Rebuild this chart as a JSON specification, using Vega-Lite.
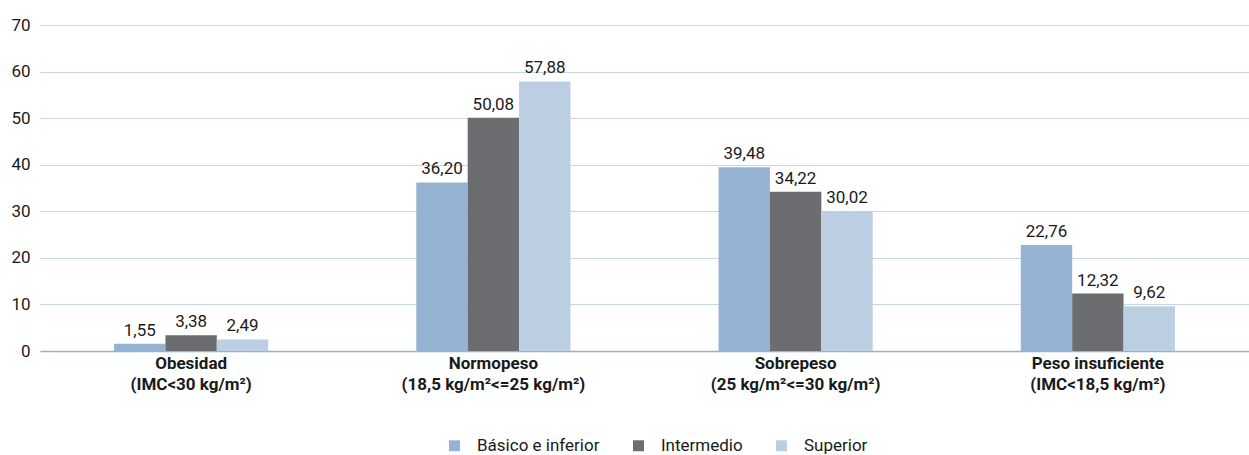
{
  "$schema": "https://vega.github.io/schema/vega-lite/v6.json",
  "autosize": "none",
  "width": 1209,
  "height": 326,
  "padding": {"left": 40, "top": 25, "right": 0, "bottom": 104},
  "background": "white",
  "config": {
    "locale": {"number": {"decimal": ",", "thousands": ".", "grouping": [3], "currency": ["", " €"]}},
    "font": "Roboto",
    "view": {"stroke": null}
  },
  "data": {
    "values": [
      {"cat": "Obesidad|(IMC<30 kg/m²)", "nivel": "Básico e inferior", "v": 1.55},
      {"cat": "Obesidad|(IMC<30 kg/m²)", "nivel": "Intermedio", "v": 3.38},
      {"cat": "Obesidad|(IMC<30 kg/m²)", "nivel": "Superior", "v": 2.49},
      {"cat": "Normopeso|(18,5 kg/m²<=25 kg/m²)", "nivel": "Básico e inferior", "v": 36.20},
      {"cat": "Normopeso|(18,5 kg/m²<=25 kg/m²)", "nivel": "Intermedio", "v": 50.08},
      {"cat": "Normopeso|(18,5 kg/m²<=25 kg/m²)", "nivel": "Superior", "v": 57.88},
      {"cat": "Sobrepeso|(25 kg/m²<=30 kg/m²)", "nivel": "Básico e inferior", "v": 39.48},
      {"cat": "Sobrepeso|(25 kg/m²<=30 kg/m²)", "nivel": "Intermedio", "v": 34.22},
      {"cat": "Sobrepeso|(25 kg/m²<=30 kg/m²)", "nivel": "Superior", "v": 30.02},
      {"cat": "Peso insuficiente|(IMC<18,5 kg/m²)", "nivel": "Básico e inferior", "v": 22.76},
      {"cat": "Peso insuficiente|(IMC<18,5 kg/m²)", "nivel": "Intermedio", "v": 12.32},
      {"cat": "Peso insuficiente|(IMC<18,5 kg/m²)", "nivel": "Superior", "v": 9.62}
    ]
  },
  "encoding": {
    "x": {
      "field": "cat",
      "type": "nominal",
      "sort": ["Obesidad|(IMC<30 kg/m²)", "Normopeso|(18,5 kg/m²<=25 kg/m²)", "Sobrepeso|(25 kg/m²<=30 kg/m²)", "Peso insuficiente|(IMC<18,5 kg/m²)"],
      "scale": {"paddingInner": 0.49, "paddingOuter": 0.245},
      "axis": {
        "title": null,
        "labelAngle": 0,
        "labelExpr": "split(datum.label, '|')",
        "labelFont": "Roboto",
        "labelFontSize": 17,
        "labelFontWeight": "bold",
        "labelColor": "#1a1a1a",
        "labelLineHeight": 21,
        "labelPadding": 4,
        "labelBaseline": "top",
        "labelLimit": 400,
        "ticks": false,
        "domainColor": "#95b3d1",
        "domainWidth": 1.5,
        "grid": false
      }
    },
    "xOffset": {"field": "nivel", "type": "nominal", "sort": ["Básico e inferior", "Intermedio", "Superior"], "scale": {"paddingInner": 0, "paddingOuter": 0}},
    "y": {
      "field": "v",
      "type": "quantitative",
      "scale": {"domain": [0, 70]},
      "axis": {
        "title": null,
        "values": [0, 10, 20, 30, 40, 50, 60, 70],
        "format": "d",
        "labelFont": "Roboto",
        "labelFontSize": 17,
        "labelColor": "#1a1a1a",
        "labelPadding": 10,
        "ticks": false,
        "domain": false,
        "gridColor": "#c6d6e6",
        "gridWidth": 1
      }
    }
  },
  "layer": [
    {
      "mark": {"type": "bar"},
      "encoding": {
        "color": {
          "field": "nivel",
          "type": "nominal",
          "sort": ["Básico e inferior", "Intermedio", "Superior"],
          "scale": {"domain": ["Básico e inferior", "Intermedio", "Superior"], "range": ["#95b3d2", "#6c6d71", "#bccfe2"]},
          "legend": {
            "title": null,
            "orient": "none",
            "direction": "horizontal",
            "legendX": 406,
            "legendY": 412,
            "symbolType": "square",
            "symbolSize": 120,
            "symbolStrokeWidth": 0,
            "labelFont": "Roboto",
            "labelFontSize": 17,
            "labelColor": "#1a1a1a",
            "labelOffset": 14,
            "columnPadding": 30
          }
        }
      }
    },
    {
      "mark": {"type": "text", "baseline": "bottom", "dy": -4, "font": "Roboto", "fontSize": 17, "color": "#1a1a1a"},
      "encoding": {
        "text": {"field": "v", "type": "quantitative", "format": ".2f"}
      }
    }
  ]
}
